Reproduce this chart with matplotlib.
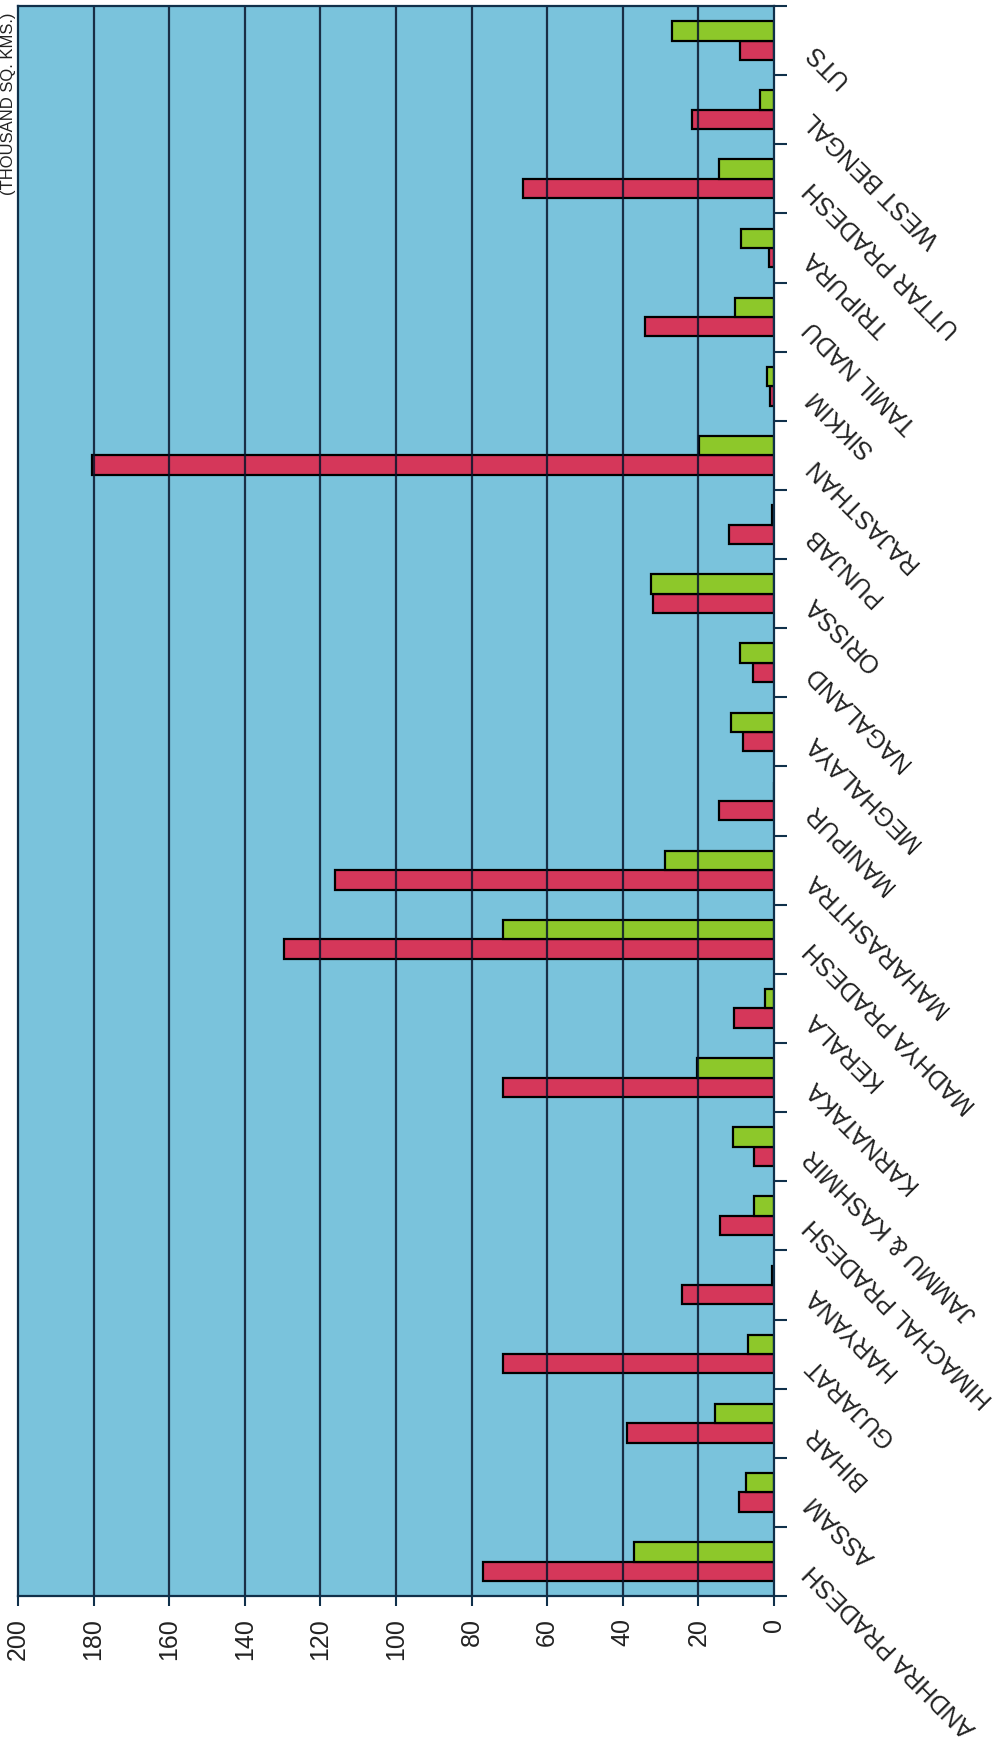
import numpy as np
import matplotlib
matplotlib.use('Agg')
import matplotlib.pyplot as plt

matplotlib.rcParams['font.family'] = ['Liberation Sans', 'DejaVu Sans']

# Estats (de baix a dalt)
states = ['ANDHRA PRADESH', 'ASSAM', 'BIHAR', 'GUJARAT', 'HARYANA',
          'HIMACHAL PRADESH', 'JAMMU & KASHMIR', 'KARNATAKA', 'KERALA',
          'MADHYA PRADESH', 'MAHARASHTRA', 'MANIPUR', 'MEGHALAYA', 'NAGALAND',
          'ORISSA', 'PUNJAB', 'RAJASTHAN', 'SIKKIM', 'TAMIL NADU', 'TRIPURA',
          'UTTAR PRADESH', 'WEST BENGAL', 'UTS']

# Valors en milers de km2
red_vals = [77.0, 9.3, 38.9, 71.8, 24.3, 14.4, 5.4, 71.6, 10.6, 129.5, 116.0,
            14.6, 8.1, 5.5, 32.0, 11.8, 180.3, 1.1, 34.0, 1.2, 66.5, 21.7, 9.0]
green_vals = [37.1, 7.5, 15.7, 6.8, 0.6, 5.4, 10.8, 20.4, 2.4, 71.8, 28.7,
              0.0, 11.3, 9.0, 32.5, 0.4, 19.9, 1.8, 10.2, 8.6, 14.6, 3.8, 26.9]

value_ticks = list(range(0, 201, 20))
unit_label = '(THOUSAND SQ. KMS.)'

fig = plt.figure(figsize=(10.05, 17.56), dpi=100)
ax = fig.add_axes([0.0179, 0.0905, 0.7522, 0.9055])
ax.set_facecolor('#7ac3dc')

y = np.arange(len(states))
h = 0.28
ax.barh(y - h / 2, red_vals, height=h, color='#d5375a', edgecolor='black',
        linewidth=1.6, zorder=2)
ax.barh(y + h / 2, green_vals, height=h, color='#8dc82a', edgecolor='black',
        linewidth=1.6, zorder=2)

ax.set_xlim(200, 0)
ax.set_ylim(-0.5, len(states) - 0.5)

# Graella vertical
for v in value_ticks[1:-1]:
    ax.axvline(v, color='#08142a', lw=1.6, alpha=0.85, zorder=3)

ax.set_xticks(value_ticks)
ax.set_xticklabels([str(v) for v in value_ticks], rotation=90, fontsize=18,
                   color='#222222')
ax.tick_params(axis='x', length=7, width=1.5, pad=8, color='#10304a')

# Marques entre grups a la dreta, etiquetes al centre
ax.yaxis.tick_right()
ax.set_yticks(np.arange(-0.5, len(states), 1.0))
ax.set_yticklabels([])
ax.tick_params(axis='y', which='major', length=9, width=1.5, color='#10304a')
ax.set_yticks(y - 0.08, minor=True)
ax.set_yticklabels(states, minor=True, rotation=135, rotation_mode='anchor',
                   ha='right', va='center', fontsize=18, color='#222222')
ax.tick_params(axis='y', which='minor', length=0, pad=25)

for s in ax.spines.values():
    s.set_color('#10304a')
    s.set_linewidth(1.6)
    s.set_zorder(4)

fig.text(0.0005, 0.993, unit_label, rotation=90, ha='left', va='top',
         fontsize=12, color='#222222')

fig.savefig('out.png', dpi=100, facecolor='white')
